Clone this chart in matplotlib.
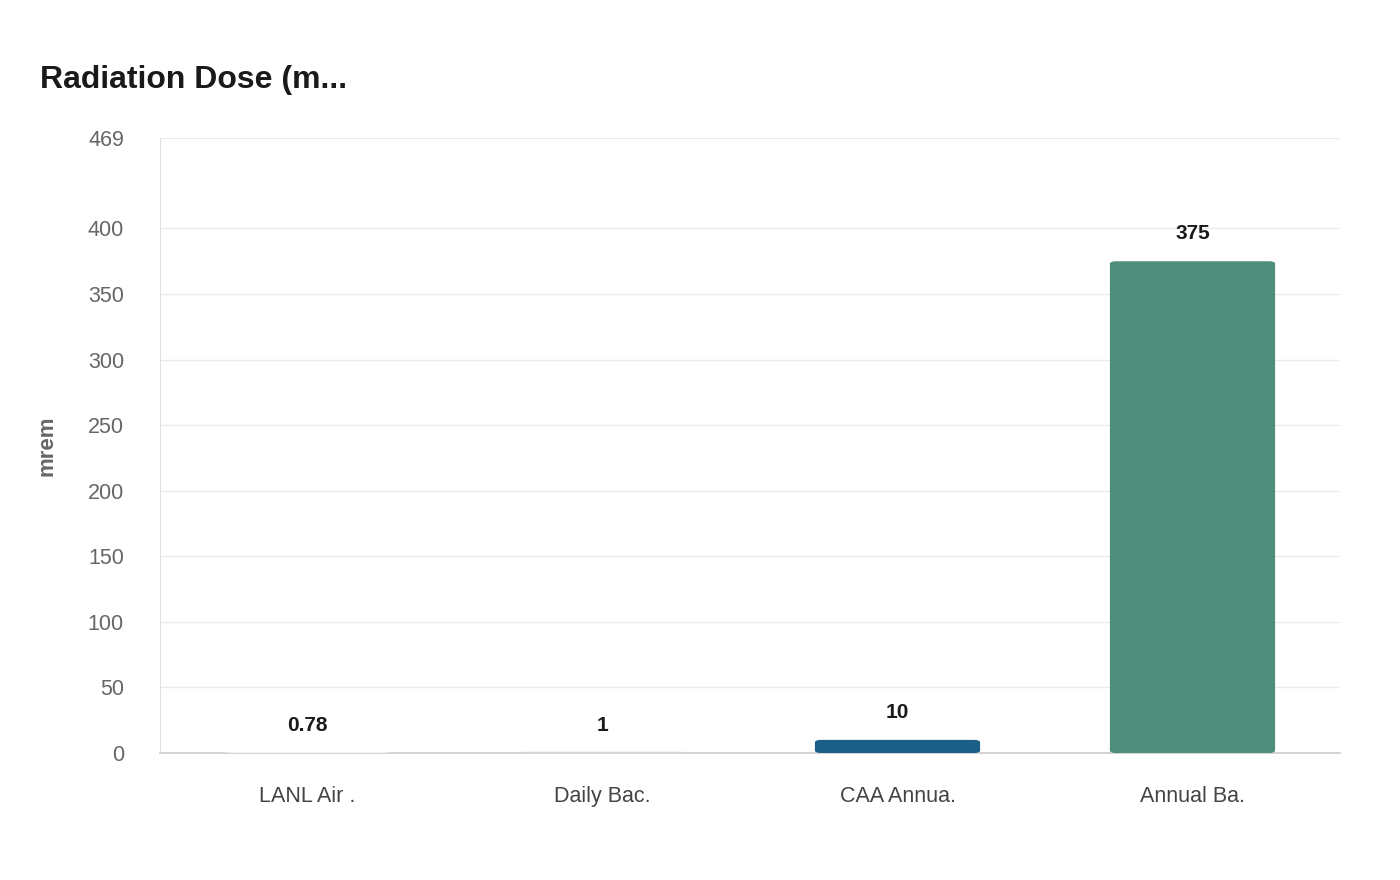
import matplotlib
matplotlib.use("Agg")
import matplotlib.pyplot as plt
from matplotlib.patches import FancyBboxPatch

plt.rcParams["font.family"] = ["Liberation Sans", "DejaVu Sans"]

categories = ["LANL Air .", "Daily Bac.", "CAA Annua.", "Annual Ba."]
values = [0.78, 1, 10, 375]
labels = ["0.78", "1", "10", "375"]
colors = ["#f2f2f2", "#d9d9d9", "#1b5e86", "#4e8e7b"]
yticks = [0, 50, 100, 150, 200, 250, 300, 350, 400, 469]

fig = plt.figure(figsize=(14, 8.8), dpi=100)
ax = fig.add_axes([160 / 1400, 1 - 753 / 880, 1180 / 1400, 615 / 880])
ax.set_xlim(-0.5, 3.5)
ax.set_ylim(0, 469)

bw = 0.56
for i, (v, c) in enumerate(zip(values, colors)):
    ax.add_patch(FancyBboxPatch((i - bw / 2, 0), bw, v,
                                boxstyle="round,pad=0,rounding_size=0.02",
                                mutation_aspect=469 / 4 * 615 / 1180 * 1.6,
                                facecolor=c, edgecolor="none", zorder=3))
    ypos = v + 14 if v > 5 else 14
    ax.text(i, ypos, labels[i], ha="center", va="bottom",
            fontsize=15, fontweight="bold", color="#1a1a1a", zorder=4)

ax.set_yticks(yticks)
ax.set_xticks(range(len(categories)))
ax.set_xticklabels(categories, fontsize=15.5, color="#444444")
ax.tick_params(axis="y", labelsize=15.5, labelcolor="#666666", length=0, pad=26)
ax.tick_params(axis="x", length=0, pad=24)
ax.grid(axis="y", color="#ebebeb", linewidth=1, zorder=0)
for s in ["top", "right"]:
    ax.spines[s].set_visible(False)
ax.spines["left"].set_color("#e0e0e0")
ax.spines["bottom"].set_color("#cccccc")
ax.spines["bottom"].set_linewidth(1.2)

ax.set_ylabel("mrem", fontsize=16, fontweight="bold", color="#666666", labelpad=22)
fig.text(40 / 1400, 1 - 80 / 880, "Radiation Dose (m...", fontsize=23,
         fontweight="bold", color="#1a1a1a", va="center")

fig.savefig("out.png", dpi=100, facecolor="white")
